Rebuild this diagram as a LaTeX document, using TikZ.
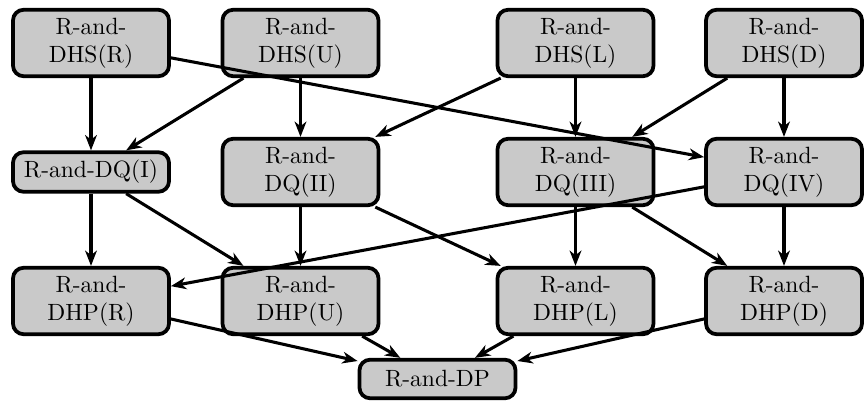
\documentclass[tikz,border=0pt]{standalone}
\usetikzlibrary{arrows.meta}
\begin{document}
\begin{tikzpicture}[x=0.425pt,y=-0.425pt,
  box/.style={draw, line width=1.6pt, fill=black!21, rounded corners=4.5pt,
    minimum width=66.3pt, minimum height=16.4pt, align=center, inner sep=3.4pt},
  link/.style={line width=1.3pt, -{Stealth[length=6.5pt,width=5pt,inset=2pt]}}]
\useasboundingbox (0,0) rectangle (866,402);

% first row
\node[box] (hsR) at (91,43)    {R-and-\\DHS(R)};
\node[box] (hsU) at (300.5,43) {R-and-\\DHS(U)};
\node[box] (hsL) at (575.5,43) {R-and-\\DHS(L)};
\node[box] (hsD) at (784,43)   {R-and-\\DHS(D)};

% second row
\node[box] (q1) at (91,172)    {R-and-DQ(I)};
\node[box] (q2) at (300.5,172) {R-and-\\DQ(II)};
\node[box] (q3) at (575.5,172) {R-and-\\DQ(III)};
\node[box] (q4) at (784,172)   {R-and-\\DQ(IV)};

% third row
\node[box] (hpR) at (91,301)    {R-and-\\DHP(R)};
\node[box] (hpU) at (300.5,301) {R-and-\\DHP(U)};
\node[box] (hpL) at (575.5,301) {R-and-\\DHP(L)};
\node[box] (hpD) at (784,301)   {R-and-\\DHP(D)};

% bottom
\node[box] (dp) at (437.5,379) {R-and-DP};

% connectors
\draw[link] (hsR) -- (q1);
\draw[link] (hsR) -- (q4);
\draw[link] (hsU) -- (q1);
\draw[link] (hsU) -- (q2);
\draw[link] (hsL) -- (q2);
\draw[link] (hsL) -- (q3);
\draw[link] (hsD) -- (q3);
\draw[link] (hsD) -- (q4);

\draw[link] (q1) -- (hpR);
\draw[link] (q1) -- (hpU);
\draw[link] (q2) -- (hpU);
\draw[link] (q2) -- (hpL);
\draw[link] (q3) -- (hpL);
\draw[link] (q3) -- (hpD);
\draw[link] (q4) -- (hpD);
\draw[link] (q4) -- (hpR);

\draw[link] (hpR) -- (dp);
\draw[link] (hpU) -- (dp);
\draw[link] (hpL) -- (dp);
\draw[link] (hpD) -- (dp);
\end{tikzpicture}
\end{document}
